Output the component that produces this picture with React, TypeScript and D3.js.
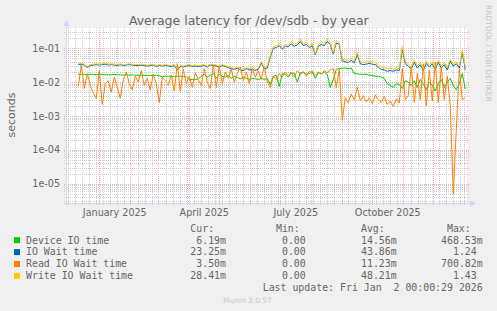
import React, { useEffect } from "react";
import * as d3 from "d3";

const W = 497;
const H = 311;

// one sample every 3 days, starting Dec 11 2024 (values in ms)
const seriesStart = new Date(2024, 11, 11);
const stepDays = 3;

const deviceIo = [
  17, 17, 17, 16.5, 17, 17, 16.5, 17, 17, 16.5,
  16.5, 16.5, 17, 16.5, 16.5, 16, 16.5, 16, 16.5, 16,
  16, 16, 16, 15.5, 16, 15.5, 16, 15.5, 14.5, 15,
  15, 15, 14.5, 15, 15, 14.5, 14.5, 12, 12, 12,
  12.5, 15, 17, 14, 16, 18, 13, 17, 15, 14,
  16, 13, 15, 14, 12.5, 14, 13, 12, 13, 12.5,
  12, 13, 12, 13, 8.5, 15, 16, 7.5, 18, 17,
  14, 19, 18, 10, 19, 20, 17, 18, 21, 13,
  19, 18, 20, 17, 7, 12, 24, 25, 26, 26,
  25, 26, 18, 17.5, 17, 17, 17, 16, 15.5, 15,
  15, 14, 13, 9, 8, 7, 9, 8.5, 6.5, 11,
  10, 8, 11, 7, 12, 9, 6, 10, 8, 5.5,
  9, 12, 7, 10, 13, 8, 6, 9, 18, 6.2,
];

const ioWait = [
  33, 34, 32, 27, 31, 32, 33, 32, 33, 34,
  32, 33, 32, 31, 33, 31, 32, 33, 32, 31,
  31, 32, 31, 30, 31, 32, 29, 31, 30, 31,
  30, 29, 31, 23, 29, 28, 30, 31, 29, 30,
  29, 30, 31, 28, 32, 31, 30, 28, 31, 29,
  27, 25, 24, 26, 23, 22, 25, 23, 24, 22,
  24, 37, 25, 26, 55, 100, 105, 120, 95, 115,
  110, 135, 115, 125, 160, 120, 130, 105, 120, 65,
  115, 130, 120, 160, 130, 68, 145, 130, 42, 40,
  38, 44, 37, 65, 35, 33, 34, 36, 34, 33,
  27, 24, 23, 21, 22, 21, 23, 22, 95, 35,
  30, 24, 39, 26, 33, 22, 36, 28, 35, 24,
  39, 26, 33, 23, 42, 30, 35, 26, 78, 23.25,
];

const readIoWait = [
  7.5, 32, 6.5, 18, 8, 4.7, 3.3, 22, 2.2, 9,
  11, 5, 14, 7, 3.3, 12, 20, 9, 6, 15,
  10, 22, 8, 13, 6, 17, 9, 2.5, 14, 11,
  8, 16, 5.5, 35, 5.3, 24, 9, 15, 7, 19,
  12, 8, 25, 10, 6.5, 32, 7, 30, 9, 20,
  13, 24, 10, 18, 28, 11, 20, 9, 25, 14,
  22, 12, 30, 10, 7, 15, 12, 18, 14, 20,
  16, 19, 14, 22, 17, 20, 15, 21, 18, 16,
  20, 17, 22, 19, 23, 25, 7, 24, 0.75, 3.5,
  2.5, 4.5, 3, 7, 2.8, 4, 2.6, 3.5, 2.3, 4.2,
  3, 2.5, 3.8, 2.2, 2.8, 1.9, 3.2, 2.4, 25, 3,
  4, 30, 2.5, 18, 3, 35, 2, 22, 2.8, 40,
  2.5, 28, 3, 15, 2, 0.005, 0.4, 25, 3, 3.5,
];

const writeIoWait = [
  35, 36, 34, 29, 33, 34, 35, 34, 35, 36,
  34, 35, 34, 33, 35, 33, 34, 35, 34, 33,
  33, 34, 33, 32, 33, 34, 31, 33, 32, 33,
  32, 31, 33, 25, 31, 30, 32, 33, 31, 32,
  31, 32, 33, 30, 34, 33, 32, 30, 33, 31,
  29, 27, 26, 28, 25, 24, 27, 25, 29, 24,
  26, 41, 27, 30, 62, 115, 120, 140, 110, 130,
  125, 160, 130, 145, 190, 135, 150, 120, 140, 70,
  130, 155, 140, 190, 150, 75, 170, 150, 48, 45,
  44, 50, 42, 75, 40, 38, 40, 42, 40, 38,
  32, 28, 27, 25, 26, 24, 27, 25, 115, 40,
  35, 28, 45, 30, 38, 25, 42, 32, 40, 28,
  45, 30, 38, 27, 48, 35, 40, 30, 90, 28.41,
];

const seriesNames = ["Device IO time", "IO Wait time", "Read IO Wait time", "Write IO Wait time"];
const seriesColors = ["#00CC00", "#0066B3", "#FF8000", "#FFCC00"];
const curValues = ["6.19m", "23.25m", "3.50m", "28.41m"];
const minValues = ["0.00", "0.00", "0.00", "0.00"];
const avgValues = ["14.56m", "43.86m", "11.23m", "48.21m"];
const maxValues = ["468.53m", "1.24", "700.82m", "1.43"];
const statHeaders = ["Cur:", "Min:", "Avg:", "Max:"];

const yTickLabels = ["1e-01", "1e-02", "1e-03", "1e-04", "1e-05"];
const xTickLabels = ["January 2025", "April 2025", "July 2025", "October 2025"];
const xTickMonths = [new Date(2025, 0, 1), new Date(2025, 3, 1), new Date(2025, 6, 1), new Date(2025, 9, 1)];

const plot = { left: 67, right: 467, top: 28, bottom: 203 };
const sans = "'DejaVu Sans', sans-serif";
const mono = "'DejaVu Sans Mono', monospace";
const fontColor = "#666666";
const axisColor = "#CFD6F8";

export default function App() {
  useEffect(() => {
    document.body.style.margin = "0";
    document.body.style.background = "#F0F0F0";
  }, []);

  const xStart = d3.timeHour.offset(new Date(2024, 11, 1), -31);
  const xEnd = d3.timeDay.offset(xStart, 400);
  const x = d3.scaleTime().domain([xStart, xEnd]).range([plot.left, plot.right]);
  const y = d3.scaleLog().domain([10 ** -5.57, 10 ** -0.4]).range([plot.bottom, plot.top]);

  const dateAt = (i: number) => d3.timeDay.offset(seriesStart, i * stepDays);
  const line = d3
    .line<number>()
    .x((_, i) => x(dateAt(i)))
    .y((v) => y(v / 1000));

  const px = (v: number) => Math.round(v) + 0.5;

  // grid
  const monthLines = d3.timeMonth.range(xStart, xEnd).map((d) => px(x(d)));
  const weekLines = d3
    .timeSunday.range(xStart, xEnd)
    .map((d) => px(x(d)))
    .filter((p) => !monthLines.some((m) => Math.abs(m - p) < 1.5));
  const yTicks = y.ticks();
  const isDecade = (v: number) => Math.abs(Math.log10(v) - Math.round(Math.log10(v))) < 1e-6;
  const majorY = yTicks.filter(isDecade);
  const minorY = yTicks.filter((v) => !isDecade(v));

  const all = [deviceIo, ioWait, readIoWait, writeIoWait];

  const charW = 5.96;
  const colEnds = [226, 311.7, 396.7, 482.7];
  const statCols = [curValues, minValues, avgValues, maxValues];
  const rowY = [243.5, 255.4, 267.3, 279.2];

  return (
    <svg width={W} height={H} style={{ position: "absolute", left: 0, top: 0, background: "#F0F0F0" }}>
      <rect x={0} y={0} width={W} height={H} fill="#F0F0F0" />
      <rect x={plot.left} y={plot.top} width={plot.right - plot.left} height={plot.bottom - plot.top} fill="#FFFFFF" />

      {/* minor grid */}
      <g stroke="#cdcdcd" strokeWidth={1} strokeDasharray="1,1" shapeRendering="crispEdges">
        {weekLines.map((p, i) => (
          <line key={"w" + i} x1={p} x2={p} y1={plot.top} y2={plot.bottom + 3} />
        ))}
        {minorY.map((v, i) => (
          <line key={"m" + i} x1={plot.left - 3} x2={plot.right + 3} y1={px(y(v))} y2={px(y(v))} />
        ))}
      </g>
      {/* major grid */}
      <g stroke="#f0b0b0" strokeWidth={1} strokeDasharray="1,1" shapeRendering="crispEdges">
        {monthLines.map((p, i) => (
          <line key={"M" + i} x1={p} x2={p} y1={plot.top} y2={plot.bottom + 3} />
        ))}
        {majorY.map((v, i) => (
          <line key={"D" + i} x1={plot.left - 3} x2={plot.right + 3} y1={px(y(v))} y2={px(y(v))} />
        ))}
      </g>

      {/* series */}
      <g fill="none" strokeWidth={1}>
        {all.map((s, i) => (
          <path key={i} d={line(s) ?? ""} stroke={seriesColors[i]} />
        ))}
      </g>

      {/* axes */}
      <g stroke={axisColor} strokeWidth={1} shapeRendering="crispEdges">
        <line x1={plot.left - 3} x2={plot.right + 3} y1={plot.bottom + 0.5} y2={plot.bottom + 0.5} />
        <line x1={plot.left - 0.5} x2={plot.left - 0.5} y1={plot.bottom + 3} y2={plot.top - 4} />
      </g>
      <polygon points={`${plot.left - 3.5},${plot.top - 2} ${plot.left + 2.5},${plot.top - 2} ${plot.left - 0.5},${plot.top - 8}`} fill={axisColor} />
      <polygon points={`${plot.right + 3},${plot.bottom - 2.5} ${plot.right + 3},${plot.bottom + 3.5} ${plot.right + 9},${plot.bottom + 0.5}`} fill={axisColor} />

      {/* y labels */}
      <g fontFamily={sans} fontSize={9.6} fill={fontColor} textAnchor="end">
        {majorY
          .slice()
          .sort((a, b) => b - a)
          .slice(0, yTickLabels.length)
          .map((v, i) => (
            <text key={i} x={60} y={y(v) + 3.5}>
              {yTickLabels[i]}
            </text>
          ))}
      </g>
      {/* x labels */}
      <g fontFamily={sans} fontSize={9.6} fill={fontColor} textAnchor="middle">
        {xTickMonths.map((d, i) => (
          <text key={i} x={(x(d) + x(d3.timeMonth.offset(d, 1))) / 2} y={216}>
            {xTickLabels[i]}
          </text>
        ))}
      </g>

      <text x={248.8} y={24.5} fontFamily={sans} fontSize={12.5} fill={fontColor} textAnchor="middle">
        Average latency for /dev/sdb - by year
      </text>
      <text transform="translate(15,115) rotate(-90)" fontFamily={sans} fontSize={11} fill={fontColor} textAnchor="middle">
        seconds
      </text>
      <text transform="translate(485.5,5) rotate(90)" fontFamily={sans} fontSize={7.5} fill="#c4c4c4">
        RRDTOOL / TOBI OETIKER
      </text>

      {/* legend */}
      <g fontFamily={mono} fontSize={9.9} fill={fontColor}>
        {statHeaders.map((h, c) => (
          <text key={"h" + c} x={colEnds[c] - 2 * charW} y={231.6} textAnchor="end">
            {h}
          </text>
        ))}
        {seriesNames.map((n, r) => (
          <g key={n}>
            <rect x={14} y={rowY[r] - 6.3} width={6} height={6} fill={seriesColors[r]} />
            <text x={26} y={rowY[r]}>
              {n}
            </text>
            {statCols.map((col, c) => {
              const v = col[r];
              const hasUnit = /[a-zA-Z]$/.test(v);
              return (
                <text key={c} x={hasUnit ? colEnds[c] : colEnds[c] - charW} y={rowY[r]} textAnchor="end">
                  {v}
                </text>
              );
            })}
          </g>
        ))}
        <text x={482.7} y={291.2} textAnchor="end" style={{ whiteSpace: "pre" }}>
          {"Last update: Fri Jan  2 00:00:29 2026"}
        </text>
      </g>
      <text x={247.5} y={302.5} fontFamily={sans} fontSize={7.4} fill="#c8c8c8" textAnchor="middle">
        Munin 2.0.57
      </text>
    </svg>
  );
}
